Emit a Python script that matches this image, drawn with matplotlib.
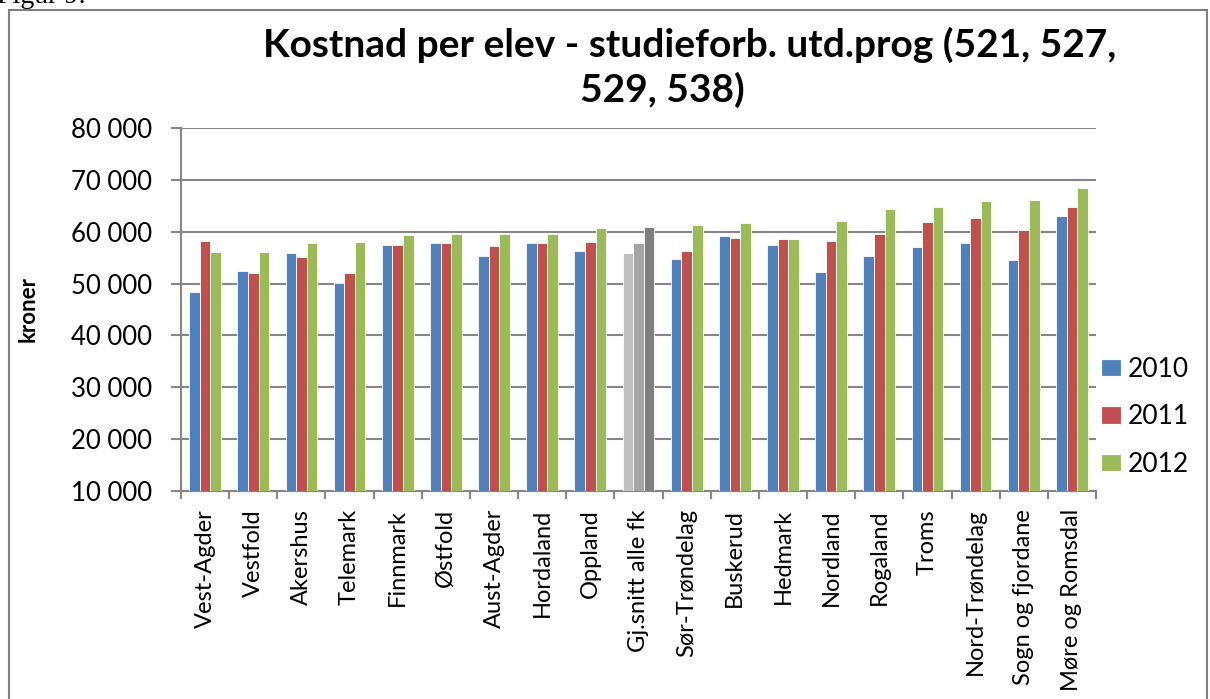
import matplotlib
matplotlib.use("Agg")
import matplotlib.pyplot as plt
from matplotlib.patches import Rectangle
from matplotlib.ticker import FuncFormatter, FixedLocator
import numpy as np

categories = ["Vest-Agder", "Vestfold", "Akershus", "Telemark", "Finnmark", "Østfold",
              "Aust-Agder", "Hordaland", "Oppland", "Gj.snitt alle fk", "Sør-Trøndelag",
              "Buskerud", "Hedmark", "Nordland", "Rogaland", "Troms", "Nord-Trøndelag",
              "Sogn og fjordane", "Møre og Romsdal"]
v2010 = [48400, 52400, 55900, 50100, 57400, 57900, 55300, 57900, 56300, 55900, 54800,
         59100, 57500, 52300, 55300, 57000, 57900, 54500, 63000]
v2011 = [58300, 52100, 55200, 52100, 57500, 57900, 57200, 57900, 58100, 57800, 56300,
         58700, 58600, 58200, 59600, 61800, 62600, 60400, 64800]
v2012 = [56100, 56100, 57800, 58100, 59400, 59500, 59500, 59500, 60800, 60900, 61300,
         61600, 58600, 62000, 64400, 64800, 65900, 66100, 68500]
years = ["2010", "2011", "2012"]
series = [v2010, v2011, v2012]
colors = ["#4F81BD", "#C0504D", "#9BBB59"]
avg_label = "Gj.snitt alle fk"
avg_colors = ["#BFBFBF", "#A5A5A5", "#7F7F7F"]
title_lines = ["Kostnad per elev - studieforb. utd.prog (521, 527,", "529, 538)"]

W, H = 1210, 699
fig = plt.figure(figsize=(W / 100, H / 100), dpi=100)
plt.rcParams['font.family'] = ['Lato', 'DejaVu Sans']

# outer border
fig.patches.append(Rectangle((9 / W, -0.05), 1198 / W, 1 - 10 / H + 0.05,
                             transform=fig.transFigure, fill=False,
                             edgecolor="#7F7F7F", linewidth=1.5))
fig.text(-3 / W, 1 - 3 / H, "Figur 9:", family="Liberation Serif", fontsize=20,
         ha="left", va="baseline")

ax = fig.add_axes([181 / W, 1 - 491 / H, (1096 - 181) / W, (491 - 128) / H])
n = len(categories)
x = np.arange(n)
bw = 0.22
for i, (vals, col, yr) in enumerate(zip(series, colors, years)):
    cols = [avg_colors[i] if c == avg_label else col for c in categories]
    ax.bar(x + (i - 1) * bw, vals, width=bw, color=cols, edgecolor="#FFFFFF",
           linewidth=0.6, label=yr, zorder=3)

ax.set_xlim(-0.5, n - 0.5)
ax.set_ylim(10000, 80000)
ax.set_yticks(np.arange(10000, 80001, 10000))
ax.yaxis.set_major_formatter(FuncFormatter(lambda v, p: f"{int(v):,}".replace(",", " ")))
ax.grid(axis="y", color="#868686", linewidth=1.5, zorder=0)
ax.set_xticks(x)
ax.set_xticklabels(categories, rotation=90, fontsize=17)
ax.xaxis.set_minor_locator(FixedLocator(np.arange(-0.5, n, 1.0)))
ax.tick_params(axis="x", which="major", length=0, pad=13)
ax.tick_params(axis="x", which="minor", length=6, width=1.5, color="#868686")
ax.tick_params(axis="y", length=7, width=1.5, color="#868686", labelsize=18.5, pad=14)
for s in ["top", "right"]:
    ax.spines[s].set_visible(False)
for s in ["left", "bottom"]:
    ax.spines[s].set_color("#868686")
    ax.spines[s].set_linewidth(1.5)
ax.set_ylabel("kroner", fontsize=16, fontweight="bold")
ax.yaxis.set_label_coords((39 - 181) / 915, 0.5)

fig.text(690 / W, 1 - 45 / H, title_lines[0], ha="center", va="center",
         fontsize=28, fontweight="bold")
fig.text(662 / W, 1 - 90 / H, title_lines[1], ha="center", va="center",
         fontsize=28, fontweight="bold")

handles, labels = ax.get_legend_handles_labels()
leg = fig.legend(handles, labels, loc="center left",
                 bbox_to_anchor=((1102 - 0.4 * 26.4 - 13) / W, 1 - 417 / H), frameon=False,
                 fontsize=19, handlelength=0.68, handleheight=0.53,
                 labelspacing=0.85, handletextpad=0.3)
for h, c in zip(leg.legend_handles, colors):
    h.set_facecolor(c)
    h.set_edgecolor(c)

fig.savefig("out.png", dpi=100)
